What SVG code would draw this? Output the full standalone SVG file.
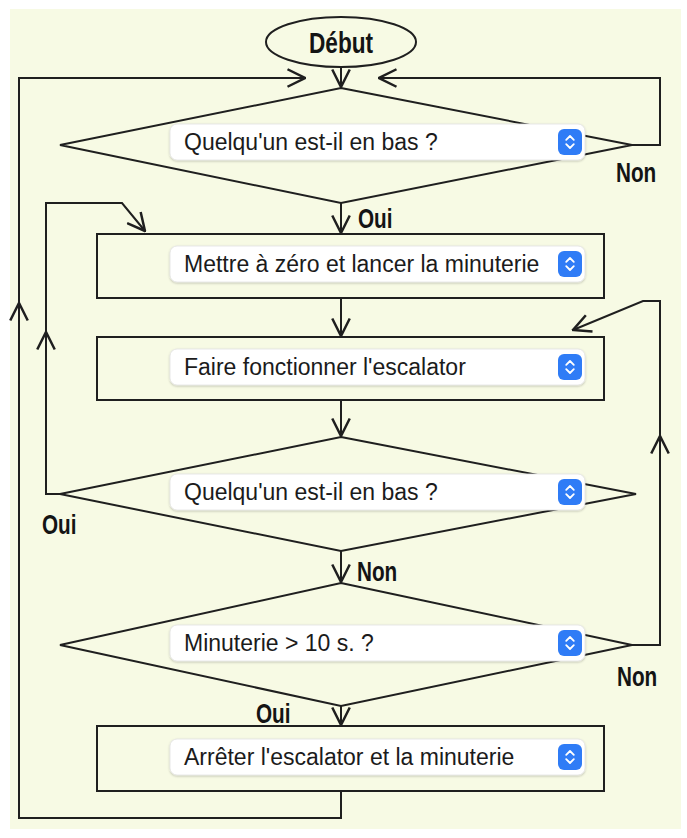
<svg xmlns="http://www.w3.org/2000/svg" xmlns:xlink="http://www.w3.org/1999/xlink" width="687" height="838" viewBox="0 0 687 838">
<style>
.shape{fill:none;stroke:#1f1f1f;stroke-width:2}
.conn{fill:none;stroke:#1f1f1f;stroke-width:2}
.lbl{font-family:"Liberation Sans",Arial,sans-serif;font-weight:bold;font-size:28px;fill:#141414}
.title{font-family:"Liberation Sans",Arial,sans-serif;font-weight:bold;font-size:29px;fill:#141414}
.pop{fill:#ffffff;stroke:#e2e2e2;stroke-width:0.8;filter:url(#sh)}
.ptxt{font-family:"Liberation Sans",Arial,sans-serif;font-size:23px;fill:#1b1b1b}
</style>
<defs>
<filter id="sh" x="-5%" y="-30%" width="110%" height="160%">
<feDropShadow dx="0" dy="1" stdDeviation="1.2" flood-color="#000" flood-opacity="0.22"/>
</filter>
<marker id="ah" markerUnits="userSpaceOnUse" markerWidth="20" markerHeight="20" viewBox="0 0 16 16" refX="15" refY="8" orient="auto">
<path d="M1,1 L15,8 L1,15" fill="none" stroke="#1f1f1f" stroke-width="2"/>
</marker>
<g id="stepper">
<rect x="0" y="0" width="24" height="26" rx="6" fill="#2f7cf6"/>
<path d="M8.2,10.8 L12,7 L15.8,10.8 M8.2,15.2 L12,19 L15.8,15.2" fill="none" stroke="#fff" stroke-width="1.8" stroke-linecap="round" stroke-linejoin="round"/>
</g>
</defs>
<rect x="0" y="0" width="687" height="838" fill="#ffffff"/>
<rect x="10" y="9" width="671" height="820" fill="#f7fae4"/>

<g id="connectors">
<path class="conn" d="M341,67 V87" marker-end="url(#ah)"/>
<path class="conn" d="M632,145 H660 V78 H379" marker-end="url(#ah)"/>
<path class="conn" d="M341,203 V233" marker-end="url(#ah)"/>
<path class="conn" d="M341,298 V336" marker-end="url(#ah)"/>
<path class="conn" d="M341,400 V436" marker-end="url(#ah)"/>
<path class="conn" d="M60,494 H46 V332" marker-end="url(#ah)"/>
<path class="conn" d="M46,332 V203 H122 L145,231" marker-end="url(#ah)"/>
<path class="conn" d="M341,551 V582" marker-end="url(#ah)"/>
<path class="conn" d="M632,645 H660 V436" marker-end="url(#ah)"/>
<path class="conn" d="M660,436 V301 H643 L573,330" marker-end="url(#ah)"/>
<path class="conn" d="M341,706 V725" marker-end="url(#ah)"/>
<path class="conn" d="M341,791 V818 H19 V303" marker-end="url(#ah)"/>
<path class="conn" d="M19,303 V78 H305" marker-end="url(#ah)"/>
<text class="lbl" transform="translate(616,182) scale(0.74,1)">Non</text>
<text class="lbl" transform="translate(358,228) scale(0.74,1)">Oui</text>
<text class="lbl" transform="translate(42,534) scale(0.74,1)">Oui</text>
<text class="lbl" transform="translate(357,581) scale(0.74,1)">Non</text>
<text class="lbl" transform="translate(617,686) scale(0.74,1)">Non</text>
<text class="lbl" transform="translate(256,723) scale(0.74,1)">Oui</text>
</g>

<g id="start">
<ellipse class="shape" cx="341" cy="42" rx="75" ry="25"/>
<text class="title" transform="translate(341,53) scale(0.78,1)" text-anchor="middle">Début</text>
</g>

<g id="d1">
<polygon class="shape" points="341,88 632,145 341,203 60,145"/>
<rect class="pop" x="170" y="124" width="415" height="36" rx="7"/>
<text class="ptxt" x="184" y="150">Quelqu'un est-il en bas ?</text>
<use xlink:href="#stepper" x="558" y="129"/>
</g>

<g id="r1">
<rect class="shape" x="97" y="234" width="507" height="64"/>
<rect class="pop" x="170" y="246" width="415" height="36" rx="7"/>
<text class="ptxt" x="184" y="272">Mettre à zéro et lancer la minuterie</text>
<use xlink:href="#stepper" x="558" y="251"/>
</g>

<g id="r2">
<rect class="shape" x="97" y="337" width="507" height="63"/>
<rect class="pop" x="170" y="349" width="415" height="36" rx="7"/>
<text class="ptxt" x="184" y="375">Faire fonctionner l'escalator</text>
<use xlink:href="#stepper" x="558" y="354"/>
</g>

<g id="d2">
<polygon class="shape" points="341,437 636,494 341,551 60,494"/>
<rect class="pop" x="170" y="474" width="415" height="36" rx="7"/>
<text class="ptxt" x="184" y="500">Quelqu'un est-il en bas ?</text>
<use xlink:href="#stepper" x="558" y="479"/>
</g>

<g id="d3">
<polygon class="shape" points="341,583 632,645 341,706 60,645"/>
<rect class="pop" x="170" y="625" width="415" height="36" rx="7"/>
<text class="ptxt" x="184" y="651">Minuterie &gt; 10 s. ?</text>
<use xlink:href="#stepper" x="558" y="630"/>
</g>

<g id="r3">
<rect class="shape" x="97" y="726" width="507" height="65"/>
<rect class="pop" x="170" y="739" width="415" height="36" rx="7"/>
<text class="ptxt" x="184" y="765">Arrêter l'escalator et la minuterie</text>
<use xlink:href="#stepper" x="558" y="744"/>
</g>
</svg>
